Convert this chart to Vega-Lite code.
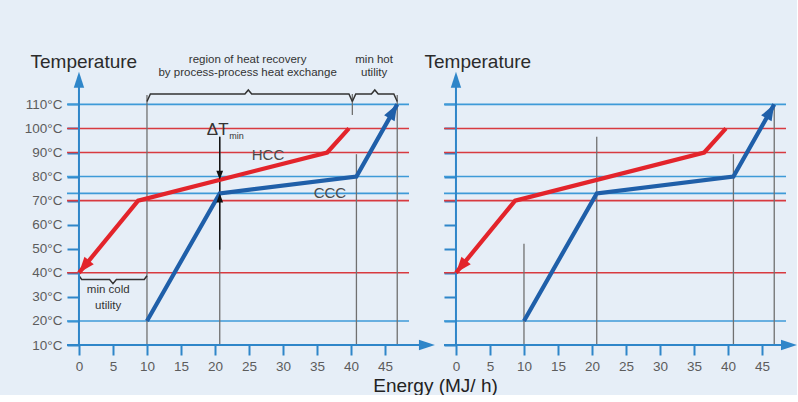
{
  "$schema": "https://vega.github.io/schema/vega-lite/v6.json",
  "background": "#e6eef7",
  "padding": {"left": 24, "top": 37, "right": 0, "bottom": 0},
  "autosize": {"type": "pad"},
  "config": {"view": {"stroke": null}, "text": {"font": "Liberation Sans"}, "axis": {"labelOverlap": false, "tickCount": 30}},
  "spacing": 35,
  "bounds": "flush",
  "datasets": {
    "hlines": [
      {"T": 110, "kind": "cold"}, {"T": 100, "kind": "hot"}, {"T": 90, "kind": "hot"},
      {"T": 80, "kind": "cold"}, {"T": 73, "kind": "cold"}, {"T": 70, "kind": "hot"},
      {"T": 40, "kind": "hot"}, {"T": 20, "kind": "cold"}
    ],
    "curves": [
      {"curve": "HCC", "step": 1, "E": 0, "T": 40},
      {"curve": "HCC", "step": 2, "E": 8.7, "T": 70},
      {"curve": "HCC", "step": 3, "E": 36.5, "T": 90},
      {"curve": "HCC", "step": 4, "E": 39.7, "T": 100},
      {"curve": "CCC", "step": 1, "E": 10, "T": 20},
      {"curve": "CCC", "step": 2, "E": 20.7, "T": 73},
      {"curve": "CCC", "step": 3, "E": 40.8, "T": 80},
      {"curve": "CCC", "step": 4, "E": 46.8, "T": 110}
    ],
    "vlinesLeft": [
      {"E": 10, "T": 10, "T2": 113.9},
      {"E": 20.7, "T": 10, "T2": 96.5},
      {"E": 40.2, "T": 105.6, "T2": 114.3},
      {"E": 40.8, "T": 10, "T2": 89.3},
      {"E": 46.8, "T": 10, "T2": 113.9}
    ],
    "vlinesRight": [
      {"E": 10, "T": 10, "T2": 52.1},
      {"E": 20.7, "T": 10, "T2": 96.5},
      {"E": 40.8, "T": 10, "T2": 89.3},
      {"E": 46.8, "T": 10, "T2": 110}
    ],
    "braces": [
      {"id": "A", "step": 1, "E": 10, "T": 111.2}, {"id": "A", "step": 2, "E": 10.5, "T": 114.3},
      {"id": "A", "step": 3, "E": 24.4, "T": 114.3}, {"id": "A", "step": 4, "E": 24.9, "T": 116},
      {"id": "A", "step": 5, "E": 25.4, "T": 114.3}, {"id": "A", "step": 6, "E": 39.7, "T": 114.3},
      {"id": "A", "step": 7, "E": 40.2, "T": 111.2},
      {"id": "B", "step": 1, "E": 40.2, "T": 111.2}, {"id": "B", "step": 2, "E": 40.7, "T": 114.3},
      {"id": "B", "step": 3, "E": 43.0, "T": 114.3}, {"id": "B", "step": 4, "E": 43.5, "T": 116},
      {"id": "B", "step": 5, "E": 44.0, "T": 114.3}, {"id": "B", "step": 6, "E": 46.3, "T": 114.3},
      {"id": "B", "step": 7, "E": 46.8, "T": 111.2},
      {"id": "C", "step": 1, "E": 0, "T": 38.8}, {"id": "C", "step": 2, "E": 0.4, "T": 37.2},
      {"id": "C", "step": 3, "E": 4.5, "T": 37.2}, {"id": "C", "step": 4, "E": 5, "T": 35.5},
      {"id": "C", "step": 5, "E": 5.5, "T": 37.2}, {"id": "C", "step": 6, "E": 9.6, "T": 37.2},
      {"id": "C", "step": 7, "E": 10, "T": 38.8}
    ]
  },
  "hconcat": [
    {
      "width": 342,
      "height": 308,
      "layer": [
        {
          "data": {"name": "hlines"},
          "transform": [{"filter": "datum.kind == 'hot'"}],
          "mark": {"type": "rule", "color": "#d83a40", "strokeWidth": 1.6},
          "encoding": {
            "y": {
              "field": "T", "type": "quantitative",
              "scale": {"domain": [10, 138], "nice": false, "zero": false},
              "axis": {
                "values": [10, 20, 30, 40, 50, 60, 70, 80, 90, 100, 110], "tickCount": 30,
                "labelExpr": "datum.value + '°C'", "labelOverlap": false,
                "offset": -12, "tickSize": 12, "tickWidth": 2, "tickColor": "#2f86c9",
                "domain": false, "grid": false, "labelPadding": 5,
                "labelFont": "Liberation Sans", "labelFontSize": 13.5, "labelColor": "#5c5c5c",
                "title": "Temperature", "titleAngle": 0, "titleAlign": "left", "titleBaseline": "alphabetic",
                "titleX": -49, "titleY": 30, "titleFont": "Liberation Sans", "titleFontSize": 19,
                "titleFontWeight": "normal", "titleColor": "#2b2b2b"
              }
            }
          }
        },
        {
          "data": {"name": "hlines"},
          "transform": [{"filter": "datum.kind == 'cold'"}],
          "mark": {"type": "rule", "color": "#3e9ad8", "strokeWidth": 1.6},
          "encoding": {"y": {"field": "T", "type": "quantitative"}}
        },
        {
          "data": {"name": "vlinesLeft"},
          "mark": {"type": "rule", "color": "#707070", "strokeWidth": 1.3},
          "encoding": {
            "x": {"field": "E", "type": "quantitative"},
            "y": {"field": "T", "type": "quantitative"},
            "y2": {"field": "T2"}
          }
        },
        {
          "data": {"values": [{"E": 20.7, "T": 49.6, "T2": 96.5}]},
          "mark": {"type": "rule", "color": "#111111", "strokeWidth": 1.4},
          "encoding": {
            "x": {"field": "E", "type": "quantitative"},
            "y": {"field": "T", "type": "quantitative"},
            "y2": {"field": "T2"}
          }
        },
        {
          "data": {"name": "braces"},
          "mark": {"type": "line", "color": "#333333", "strokeWidth": 1.5},
          "encoding": {
            "x": {"field": "E", "type": "quantitative"},
            "y": {"field": "T", "type": "quantitative"},
            "detail": {"field": "id"},
            "order": {"field": "step"}
          }
        },
        {
          "data": {"values": [{"E": 0, "T": 10, "T2": 119}]},
          "mark": {"type": "rule", "color": "#2f86c9", "strokeWidth": 2},
          "encoding": {
            "x": {"field": "E", "type": "quantitative"},
            "y": {"field": "T", "type": "quantitative"},
            "y2": {"field": "T2"}
          }
        },
        {
          "data": {"values": [{"E": -1.76, "E2": 51.2, "T": 10}]},
          "mark": {"type": "rule", "color": "#2f86c9", "strokeWidth": 2},
          "encoding": {
            "x": {"field": "E", "type": "quantitative"},
            "x2": {"field": "E2"},
            "y": {"field": "T", "type": "quantitative"}
          }
        },
        {
          "data": {"values": [{"E": 0, "T": 120.2}]},
          "mark": {"type": "point", "shape": "M0,-1L0.65,1L-0.65,1Z", "size": 256, "filled": true, "opacity": 1, "color": "#2f86c9", "strokeWidth": 0, "angle": 0},
          "encoding": {"x": {"field": "E", "type": "quantitative"}, "y": {"field": "T", "type": "quantitative"}}
        },
        {
          "data": {"values": [{"E": 51.17, "T": 10}]},
          "mark": {"type": "point", "shape": "M0,-1L0.65,1L-0.65,1Z", "size": 256, "filled": true, "opacity": 1, "color": "#2f86c9", "strokeWidth": 0, "angle": 90},
          "encoding": {"x": {"field": "E", "type": "quantitative"}, "y": {"field": "T", "type": "quantitative"}}
        },
        {
          "data": {"name": "curves"},
          "transform": [{"filter": "datum.curve == 'HCC'"}],
          "mark": {"type": "line", "color": "#e3242b", "strokeWidth": 4.2},
          "encoding": {
            "x": {
              "field": "E", "type": "quantitative",
              "scale": {"domain": [-1.76, 48.53], "nice": false, "zero": false},
              "axis": {
                "values": [0, 5, 10, 15, 20, 25, 30, 35, 40, 45], "tickCount": 30, "labelOverlap": false,
                "tickSize": 10, "tickWidth": 2, "tickColor": "#2f86c9",
                "domain": false, "grid": false, "labelPadding": 4, "labelFlush": false,
                "labelFont": "Liberation Sans", "labelFontSize": 13.5, "labelColor": "#5c5c5c",
                "title": "Energy (MJ/ h)", "titleX": 368, "titleY": 46, "titleAlign": "center",
                "titleBaseline": "alphabetic", "titleFont": "Liberation Sans", "titleFontSize": 19,
                "titleFontWeight": "normal", "titleColor": "#222222"
              }
            },
            "y": {"field": "T", "type": "quantitative"},
            "order": {"field": "step"}
          }
        },
        {
          "data": {"name": "curves"},
          "transform": [{"filter": "datum.curve == 'CCC'"}],
          "mark": {"type": "line", "color": "#1f5fa9", "strokeWidth": 4.2},
          "encoding": {
            "x": {"field": "E", "type": "quantitative"},
            "y": {"field": "T", "type": "quantitative"},
            "order": {"field": "step"}
          }
        },
        {
          "data": {"values": [{"E": 0.746, "T": 42.56}]},
          "mark": {"type": "point", "shape": "M0,-1L0.75,1L-0.75,1Z", "size": 256, "filled": true, "opacity": 1, "color": "#e3242b", "strokeWidth": 0, "angle": 219.3},
          "encoding": {"x": {"field": "E", "type": "quantitative"}, "y": {"field": "T", "type": "quantitative"}}
        },
        {
          "data": {"values": [{"E": 46.22, "T": 107.11}]},
          "mark": {"type": "point", "shape": "M0,-1L0.75,1L-0.75,1Z", "size": 256, "filled": true, "opacity": 1, "color": "#1f5fa9", "strokeWidth": 0, "angle": 29.4},
          "encoding": {"x": {"field": "E", "type": "quantitative"}, "y": {"field": "T", "type": "quantitative"}}
        },
        {
          "data": {"values": [{"E": 20.7, "T": 80.5}]},
          "mark": {"type": "point", "shape": "M0,-1L0.75,1L-0.75,1Z", "size": 81, "filled": true, "opacity": 1, "color": "#111111", "strokeWidth": 0, "angle": 180},
          "encoding": {"x": {"field": "E", "type": "quantitative"}, "y": {"field": "T", "type": "quantitative"}}
        },
        {
          "data": {"values": [{"E": 20.7, "T": 71.13}]},
          "mark": {"type": "point", "shape": "M0,-1L0.75,1L-0.75,1Z", "size": 81, "filled": true, "opacity": 1, "color": "#111111", "strokeWidth": 0, "angle": 0},
          "encoding": {"x": {"field": "E", "type": "quantitative"}, "y": {"field": "T", "type": "quantitative"}}
        },
        {
          "data": {"values": [
            {"label": "region of heat recovery", "E": 24.8, "T": 128.5},
            {"label": "by process-process heat exchange", "E": 24.8, "T": 123.1},
            {"label": "min hot", "E": 43.4, "T": 128.5},
            {"label": "utility", "E": 43.4, "T": 123.1},
            {"label": "min cold", "E": 4.3, "T": 33},
            {"label": "utility", "E": 4.3, "T": 26.1}
          ]},
          "mark": {"type": "text", "font": "Liberation Sans", "fontSize": 11.5, "color": "#333333", "align": "center", "baseline": "middle"},
          "encoding": {"x": {"field": "E", "type": "quantitative"}, "y": {"field": "T", "type": "quantitative"}, "text": {"field": "label"}}
        },
        {
          "data": {"values": [
            {"label": "HCC", "E": 27.8, "T": 89},
            {"label": "CCC", "E": 36.9, "T": 73.1}
          ]},
          "mark": {"type": "text", "font": "Liberation Sans", "fontSize": 15, "color": "#4a4a4a", "align": "center", "baseline": "middle"},
          "encoding": {"x": {"field": "E", "type": "quantitative"}, "y": {"field": "T", "type": "quantitative"}, "text": {"field": "label"}}
        },
        {
          "data": {"values": [{"label": "ΔT", "E": 18.8, "T": 97.3}]},
          "mark": {"type": "text", "font": "Liberation Sans", "fontSize": 17, "color": "#333333", "align": "left", "baseline": "alphabetic"},
          "encoding": {"x": {"field": "E", "type": "quantitative"}, "y": {"field": "T", "type": "quantitative"}, "text": {"field": "label"}}
        },
        {
          "data": {"values": [{"label": "min", "E": 22.1, "T": 95.7}]},
          "mark": {"type": "text", "font": "Liberation Sans", "fontSize": 9, "color": "#333333", "align": "left", "baseline": "alphabetic"},
          "encoding": {"x": {"field": "E", "type": "quantitative"}, "y": {"field": "T", "type": "quantitative"}, "text": {"field": "label"}}
        }
      ]
    },
    {
      "width": 342,
      "height": 308,
      "layer": [
        {
          "data": {"name": "hlines"},
          "transform": [{"filter": "datum.kind == 'hot'"}],
          "mark": {"type": "rule", "color": "#d83a40", "strokeWidth": 1.6},
          "encoding": {
            "y": {
              "field": "T", "type": "quantitative",
              "scale": {"domain": [10, 138], "nice": false, "zero": false},
              "axis": {
                "values": [10, 20, 30, 40, 50, 60, 70, 80, 90, 100, 110], "tickCount": 30,
                "labels": false,
                "offset": -12, "tickSize": 12, "tickWidth": 2, "tickColor": "#2f86c9",
                "domain": false, "grid": false,
                "title": "Temperature", "titleAngle": 0, "titleAlign": "left", "titleBaseline": "alphabetic",
                "titleX": -32, "titleY": 30, "titleFont": "Liberation Sans", "titleFontSize": 19,
                "titleFontWeight": "normal", "titleColor": "#2b2b2b"
              }
            }
          }
        },
        {
          "data": {"name": "hlines"},
          "transform": [{"filter": "datum.kind == 'cold'"}],
          "mark": {"type": "rule", "color": "#3e9ad8", "strokeWidth": 1.6},
          "encoding": {"y": {"field": "T", "type": "quantitative"}}
        },
        {
          "data": {"name": "vlinesRight"},
          "mark": {"type": "rule", "color": "#707070", "strokeWidth": 1.3},
          "encoding": {
            "x": {"field": "E", "type": "quantitative"},
            "y": {"field": "T", "type": "quantitative"},
            "y2": {"field": "T2"}
          }
        },
        {
          "data": {"values": [{"E": 0, "T": 10, "T2": 119}]},
          "mark": {"type": "rule", "color": "#2f86c9", "strokeWidth": 2},
          "encoding": {
            "x": {"field": "E", "type": "quantitative"},
            "y": {"field": "T", "type": "quantitative"},
            "y2": {"field": "T2"}
          }
        },
        {
          "data": {"values": [{"E": -1.76, "E2": 49, "T": 10}]},
          "mark": {"type": "rule", "color": "#2f86c9", "strokeWidth": 2},
          "encoding": {
            "x": {"field": "E", "type": "quantitative"},
            "x2": {"field": "E2"},
            "y": {"field": "T", "type": "quantitative"}
          }
        },
        {
          "data": {"values": [{"E": 0, "T": 120.2}]},
          "mark": {"type": "point", "shape": "M0,-1L0.65,1L-0.65,1Z", "size": 256, "filled": true, "opacity": 1, "color": "#2f86c9", "strokeWidth": 0, "angle": 0},
          "encoding": {"x": {"field": "E", "type": "quantitative"}, "y": {"field": "T", "type": "quantitative"}}
        },
        {
          "data": {"values": [{"E": 48.97, "T": 10}]},
          "mark": {"type": "point", "shape": "M0,-1L0.65,1L-0.65,1Z", "size": 256, "filled": true, "opacity": 1, "color": "#2f86c9", "strokeWidth": 0, "angle": 90},
          "encoding": {"x": {"field": "E", "type": "quantitative"}, "y": {"field": "T", "type": "quantitative"}}
        },
        {
          "data": {"name": "curves"},
          "transform": [{"filter": "datum.curve == 'HCC'"}],
          "mark": {"type": "line", "color": "#e3242b", "strokeWidth": 4.2},
          "encoding": {
            "x": {
              "field": "E", "type": "quantitative",
              "scale": {"domain": [-1.76, 48.53], "nice": false, "zero": false},
              "axis": {
                "values": [0, 5, 10, 15, 20, 25, 30, 35, 40, 45], "tickCount": 30, "labelOverlap": false,
                "tickSize": 10, "tickWidth": 2, "tickColor": "#2f86c9",
                "domain": false, "grid": false, "labelPadding": 4, "labelFlush": false,
                "labelFont": "Liberation Sans", "labelFontSize": 13.5, "labelColor": "#5c5c5c",
                "title": null
              }
            },
            "y": {"field": "T", "type": "quantitative"},
            "order": {"field": "step"}
          }
        },
        {
          "data": {"name": "curves"},
          "transform": [{"filter": "datum.curve == 'CCC'"}],
          "mark": {"type": "line", "color": "#1f5fa9", "strokeWidth": 4.2},
          "encoding": {
            "x": {"field": "E", "type": "quantitative"},
            "y": {"field": "T", "type": "quantitative"},
            "order": {"field": "step"}
          }
        },
        {
          "data": {"values": [{"E": 0.746, "T": 42.56}]},
          "mark": {"type": "point", "shape": "M0,-1L0.75,1L-0.75,1Z", "size": 256, "filled": true, "opacity": 1, "color": "#e3242b", "strokeWidth": 0, "angle": 219.3},
          "encoding": {"x": {"field": "E", "type": "quantitative"}, "y": {"field": "T", "type": "quantitative"}}
        },
        {
          "data": {"values": [{"E": 46.22, "T": 107.11}]},
          "mark": {"type": "point", "shape": "M0,-1L0.75,1L-0.75,1Z", "size": 256, "filled": true, "opacity": 1, "color": "#1f5fa9", "strokeWidth": 0, "angle": 29.4},
          "encoding": {"x": {"field": "E", "type": "quantitative"}, "y": {"field": "T", "type": "quantitative"}}
        }
      ]
    }
  ]
}
